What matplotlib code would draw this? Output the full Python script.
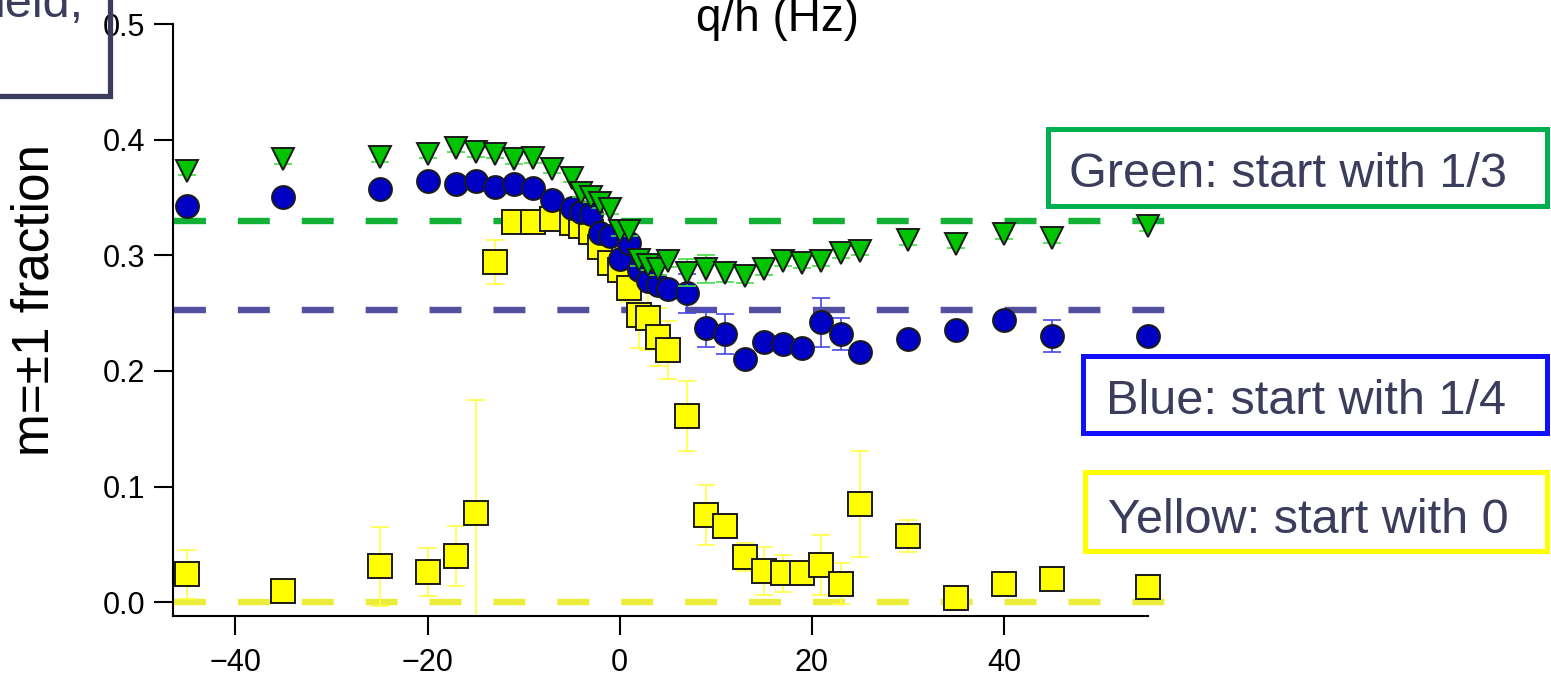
import numpy as np
import matplotlib
matplotlib.use('Agg')
import matplotlib.pyplot as plt
from matplotlib.patches import Rectangle

plt.rcParams['font.family'] = ['Liberation Sans', 'DejaVu Sans']
plt.rcParams['lines.scale_dashes'] = False

# q/h detuning (Hz) and m=+-1 fraction for the three starting populations
x_green = [-45, -35, -25, -20, -17, -15, -13, -11, -9, -7, -5, -4, -3, -2, -1, 0, 1, 2, 3, 4,
           5, 7, 9, 11, 13, 15, 17, 19, 21, 23, 25, 30, 35, 40, 45, 55]
y_green = [0.373, 0.383, 0.385, 0.388, 0.393, 0.389, 0.388, 0.383, 0.384, 0.375,
           0.367, 0.354, 0.350, 0.345, 0.340, 0.321, 0.321, 0.296, 0.292, 0.288,
           0.295, 0.285, 0.288, 0.285, 0.282, 0.288, 0.295, 0.293, 0.295, 0.302,
           0.304, 0.313, 0.310, 0.318, 0.315, 0.325]
e_green = [0.004, 0.004, 0.004, 0.004, 0.004, 0.004, 0.004, 0.004, 0.004, 0.004,
           0.004, 0.004, 0.004, 0.004, 0.004, 0.004, 0.004, 0.005, 0.005, 0.005,
           0.005, 0.012, 0.012, 0.008, 0.006, 0.005, 0.004, 0.004, 0.004, 0.004,
           0.004, 0.004, 0.004, 0.004, 0.004, 0.004]

x_blue = [-45, -35, -25, -20, -17, -15, -13, -11, -9, -7, -5, -4, -3, -2, -1, 0, 1, 2, 3, 4,
          5, 7, 9, 11, 13, 15, 17, 19, 21, 23, 25, 30, 35, 40, 45, 55]
y_blue = [0.343, 0.350, 0.357, 0.364, 0.362, 0.364, 0.359, 0.362, 0.358, 0.348,
          0.341, 0.337, 0.336, 0.319, 0.317, 0.297, 0.311, 0.287, 0.278, 0.274,
          0.271, 0.267, 0.237, 0.232, 0.210, 0.225, 0.223, 0.220, 0.242, 0.232,
          0.216, 0.228, 0.235, 0.244, 0.230, 0.230]
e_blue = [0.004, 0.004, 0.004, 0.004, 0.004, 0.004, 0.004, 0.004, 0.004, 0.004,
          0.004, 0.004, 0.004, 0.004, 0.004, 0.004, 0.004, 0.006, 0.006, 0.006,
          0.006, 0.017, 0.016, 0.017, 0.006, 0.006, 0.006, 0.006, 0.021, 0.014,
          0.004, 0.004, 0.004, 0.004, 0.014, 0.004]

x_yellow = [-45, -35, -25, -20, -17, -15, -13, -11, -9, -7, -5, -4, -3, -2, -1, 0, 1, 2, 3, 4,
            5, 7, 9, 11, 13, 15, 17, 19, 21, 23, 25, 30, 35, 40, 45, 55]
y_yellow = [0.024, 0.010, 0.031, 0.026, 0.040, 0.077, 0.294, 0.329, 0.329, 0.331,
            0.328, 0.325, 0.320, 0.307, 0.293, 0.287, 0.272, 0.248, 0.246, 0.229,
            0.218, 0.161, 0.075, 0.066, 0.039, 0.027, 0.025, 0.025, 0.032, 0.016,
            0.085, 0.057, 0.004, 0.016, 0.020, 0.013]
e_yellow = [0.021, 0.004, 0.034, 0.021, 0.026, 0.098, 0.019, 0.004, 0.004, 0.004,
            0.004, 0.004, 0.005, 0.006, 0.008, 0.010, 0.012, 0.028, 0.028, 0.025,
            0.025, 0.030, 0.026, 0.010, 0.012, 0.021, 0.016, 0.008, 0.026, 0.018,
            0.046, 0.014, 0.003, 0.004, 0.004, 0.003]

# reference levels (initial m=+-1 fraction)
level_green = 0.33
level_blue = 0.253
level_yellow = 0.0

box_text = ['Green: start with 1/3', 'Blue: start with 1/4', 'Yellow: start with 0']

W, H = 1551, 677
TXT = '#3c3c5c'


def fx(px):
    return px / W


def fy(py):
    return 1 - py / H


def plot_figure():
    fig = plt.figure(figsize=(W / 100, H / 100), dpi=100)
    ax = fig.add_axes([fx(173), fy(616), fx(1148) - fx(173), fy(24) - fy(616)])

    # dashed reference lines, running a bit past the right end of the axis
    xl = [-46.4, 56.9]
    for lev, col in [(level_green, '#12b035'), (level_blue, '#5450a0'), (level_yellow, '#ecec3a')]:
        ax.plot(xl, [lev, lev], color=col, lw=4.6, dashes=(23, 23), clip_on=False,
                zorder=1, solid_capstyle='butt', dash_capstyle='butt')

    series = [
        (x_yellow, y_yellow, e_yellow, 's', '#ffff00', '#ffff40', 17, 2),
        (x_blue, y_blue, e_blue, 'o', '#0000c4', '#4848e8', 16.5, 4),
        (x_green, y_green, e_green, 'v', '#00c400', '#44dd44', 16, 6),
    ]
    for xs, ys, es, mk, fc, ec, ms, z in series:
        ax.errorbar(xs, ys, yerr=es, fmt='none', ecolor=ec, elinewidth=1.2,
                    capsize=6.5, capthick=1.2, zorder=z)
        ax.plot(xs, ys, linestyle='none', marker=mk, ms=ms, mfc=fc, mec='#1a1a1a',
                mew=1.4, zorder=z + 1, clip_on=False)

    ax.set_xlim(-46.5, 55)
    ax.set_ylim(-0.012, 0.5)
    ax.set_xticks([-40, -20, 0, 20, 40])
    ax.set_yticks([0.0, 0.1, 0.2, 0.3, 0.4, 0.5])
    ax.set_yticklabels(['0.0', '0.1', '0.2', '0.3', '0.4', '0.5'])
    for s in ['top', 'right']:
        ax.spines[s].set_visible(False)
    for s in ['left', 'bottom']:
        ax.spines[s].set_linewidth(1.5)
    ax.tick_params(direction='out', length=14, width=1.5, labelsize=22, pad=6)
    ax.tick_params(axis='x', pad=9)

    fig.text(fx(35), fy(300), 'm=±1 fraction', fontsize=37, rotation=90,
             ha='center', va='center')

    # axis title of the panel above, cut at the top edge
    fig.text(fx(778), fy(31), 'q/h (Hz)', fontsize=33, ha='center', va='baseline')

    # text box at top left, only its corner is shown
    fig.add_artist(Rectangle((fx(-20), fy(96)), fx(129.5), fy(-40) - fy(96),
                             transform=fig.transFigure, fill=False, ec=TXT, lw=3.8))
    fig.text(fx(84), fy(17), 'ield,', fontsize=35, color=TXT, ha='right', va='baseline')

    # colour key boxes
    boxes = [
        (1047.5, 128.5, 205.5, '#00b050', 1069, 187),
        (1082.5, 356.5, 432.5, '#1010ff', 1106, 414),
        (1084.5, 472.5, 550.5, '#ffff00', 1108, 533),
    ]
    for (left, top, bot, col, tx, ty), label in zip(boxes, box_text):
        fig.add_artist(Rectangle((fx(left), fy(bot)), fx(1547) - fx(left), fy(top) - fy(bot),
                                 transform=fig.transFigure, fill=False, ec=col, lw=3.6))
        fig.text(fx(tx), fy(ty), label, fontsize=35, color=TXT, ha='left', va='baseline')

    fig.savefig('out.png', dpi=100)


if __name__ == "__main__":
    plot_figure()
